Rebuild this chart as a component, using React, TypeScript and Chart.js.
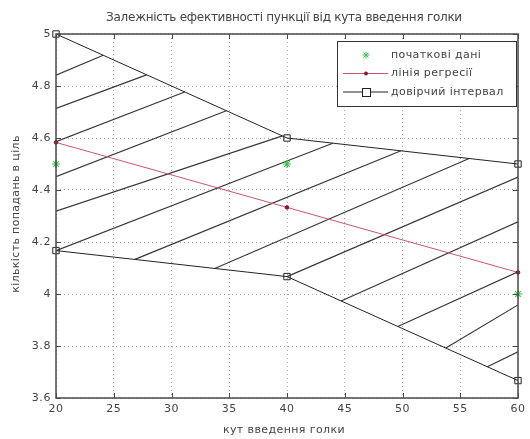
import React, { useEffect, useRef } from "react";
import { Chart, registerables } from "chart.js";
Chart.register(...registerables);

// ---- data ----
const angles = [20, 40, 60];
const initialData = [4.5, 4.5, 4.0];
const regression = [4.583, 4.333, 4.083];
const upperBound = [5.0, 4.6, 4.5];
const lowerBound = [4.167, 4.067, 3.667];

// hatch lines of the confidence band (start / end points in data units)
const hatchStartX = [20, 20, 20, 20, 20, 20, 26.83, 33.74, 40, 44.68, 49.6, 53.75, 57.35];
const hatchStartY = [4.842, 4.714, 4.586, 4.451, 4.319, 4.167, 4.133, 4.098, 4.067, 3.973, 3.875, 3.792, 3.72];
const hatchEndX = [24.09, 27.84, 31.14, 34.75, 39.6, 43.96, 49.87, 55.77, 60, 60, 60, 60, 60];
const hatchEndY = [4.918, 4.843, 4.777, 4.705, 4.608, 4.58, 4.551, 4.521, 4.45, 4.278, 4.085, 3.958, 3.778];

const xTicks = [20, 25, 30, 35, 40, 45, 50, 55, 60];
const yTicks = [3.6, 3.8, 4.0, 4.2, 4.4, 4.6, 4.8, 5.0];

const chartTitle = "Залежність ефективності пункції від кута введення голки";
const xTitle = "кут введення голки";
const yTitle = "кількість попадань в ціль";
const legendLabels = ["початкові дані", "лінія регресії", "довірчий інтервал"];

const FONT = "'DejaVu Sans', 'Liberation Sans', sans-serif";
const TEXT = "#444";
const GREEN = "#3fc44f";
const RED = "#c8566a";
const BLACK = "#222";
const HATCH = "#383838";

function drawStar(ctx: CanvasRenderingContext2D, x: number, y: number, r: number) {
  ctx.beginPath();
  ctx.moveTo(x - r, y); ctx.lineTo(x + r, y);
  ctx.moveTo(x, y - r); ctx.lineTo(x, y + r);
  const d = r * 0.7;
  ctx.moveTo(x - d, y - d); ctx.lineTo(x + d, y + d);
  ctx.moveTo(x - d, y + d); ctx.lineTo(x + d, y - d);
  ctx.stroke();
}

const spacingPlugin = {
  id: "spacing",
  beforeDraw(chart: any) {
    (chart.ctx as any).letterSpacing = "0.6px";
  },
};

const decorPlugin = {
  id: "decor",
  afterDraw(chart: any) {
    const { ctx, chartArea: a, scales } = chart;
    const xs = scales.x, ys = scales.y;
    ctx.save();
    // box
    ctx.strokeStyle = "#4a4a4a";
    ctx.lineWidth = 1.5;
    ctx.strokeRect(a.left, a.top, a.right - a.left, a.bottom - a.top);
    // inward ticks
    ctx.lineWidth = 1;
    ctx.beginPath();
    xTicks.forEach((v) => {
      const px = Math.round(xs.getPixelForValue(v)) + 0.5;
      ctx.moveTo(px, a.bottom); ctx.lineTo(px, a.bottom - 5);
      ctx.moveTo(px, a.top); ctx.lineTo(px, a.top + 5);
    });
    yTicks.forEach((v) => {
      const py = Math.round(ys.getPixelForValue(v)) + 0.5;
      ctx.moveTo(a.left, py); ctx.lineTo(a.left + 5, py);
      ctx.moveTo(a.right, py); ctx.lineTo(a.right - 5, py);
    });
    ctx.stroke();

    // titles
    ctx.fillStyle = TEXT;
    ctx.textAlign = "center";
    ctx.textBaseline = "middle";
    (ctx as any).letterSpacing = "-0.27px";
    ctx.font = `12px ${FONT}`;
    ctx.fillText(chartTitle, 284, 18);
    (ctx as any).letterSpacing = "0.4px";
    ctx.font = `11px ${FONT}`;
    ctx.fillText(xTitle, 284, 430);
    ctx.save();
    (ctx as any).letterSpacing = "0.35px";
    ctx.translate(16, 214);
    ctx.rotate(-Math.PI / 2);
    ctx.fillText(yTitle, 0, 0);
    ctx.restore();

    // legend
    const lx = 337, ly = 41, lw = 179, lh = 65;
    ctx.fillStyle = "#fff";
    ctx.fillRect(lx, ly, lw, lh);
    ctx.strokeStyle = "#333";
    ctx.lineWidth = 1;
    ctx.strokeRect(lx + 0.5, ly + 0.5, lw, lh);
    const rows = [55, 73.5, 92];
    const sx0 = 343, sx1 = 388, mx = 366;
    ctx.strokeStyle = GREEN;
    ctx.lineWidth = 1;
    drawStar(ctx, mx, rows[0], 3.5);
    ctx.strokeStyle = RED;
    ctx.beginPath(); ctx.moveTo(sx0, rows[1]); ctx.lineTo(sx1, rows[1]); ctx.stroke();
    ctx.fillStyle = "#8a1a2a";
    ctx.beginPath(); ctx.arc(mx, rows[1], 2, 0, Math.PI * 2); ctx.fill();
    ctx.strokeStyle = BLACK;
    ctx.beginPath(); ctx.moveTo(sx0, rows[2]); ctx.lineTo(sx1, rows[2]); ctx.stroke();
    ctx.fillStyle = "#fff";
    ctx.fillRect(mx - 4, rows[2] - 4, 8, 8);
    ctx.strokeRect(mx - 4 + 0.5, rows[2] - 4 + 0.5, 8, 8);
    ctx.fillStyle = TEXT;
    ctx.textAlign = "left";
    (ctx as any).letterSpacing = "0.4px";
    ctx.font = `11px ${FONT}`;
    legendLabels.forEach((t, i) => ctx.fillText(t, 391, rows[i]));
    ctx.restore();
  },
};

export default function App() {
  const ref = useRef<HTMLCanvasElement>(null);
  useEffect(() => {
    if (!ref.current) return;
    const hatchData: any[] = [];
    hatchStartX.forEach((x0, i) => {
      hatchData.push({ x: x0, y: hatchStartY[i] });
      hatchData.push({ x: hatchEndX[i], y: hatchEndY[i] });
      hatchData.push({ x: hatchEndX[i], y: null });
    });
    const pts = (ys: number[]) => angles.map((x, i) => ({ x, y: ys[i] }));
    const chart = new Chart(ref.current, {
      type: "line",
      data: {
        datasets: [
          {
            label: legendLabels[0],
            data: pts(initialData),
            showLine: false,
            pointStyle: "star",
            pointRadius: 4,
            pointBorderColor: GREEN,
            pointBorderWidth: 1.2,
            clip: false,
            order: 0,
          },
          {
            label: legendLabels[1],
            data: pts(regression),
            borderColor: RED,
            borderWidth: 1,
            pointStyle: "circle",
            pointRadius: 1.8,
            pointBackgroundColor: "#8a1a2a",
            pointBorderColor: "#8a1a2a",
            clip: false,
            order: 1,
          },
          {
            label: legendLabels[2],
            data: pts(upperBound),
            borderColor: BLACK,
            borderWidth: 1,
            pointStyle: "rect",
            pointRadius: 4.5,
            pointBackgroundColor: "rgba(255,255,255,0)",
            pointBorderColor: BLACK,
            pointBorderWidth: 1,
            clip: false,
            order: 2,
          },
          {
            label: legendLabels[2] + " (lower)",
            data: pts(lowerBound),
            borderColor: BLACK,
            borderWidth: 1,
            pointStyle: "rect",
            pointRadius: 4.5,
            pointBackgroundColor: "rgba(255,255,255,0)",
            pointBorderColor: BLACK,
            pointBorderWidth: 1,
            clip: false,
            order: 2,
          },
          {
            label: "hatch",
            data: hatchData,
            borderColor: HATCH,
            borderWidth: 1.2,
            pointRadius: 0,
            spanGaps: false,
            order: 3,
          },
        ],
      },
      options: {
        animation: false,
        responsive: false,
        devicePixelRatio: 1,
        layout: { padding: { top: 34, right: 11, left: 0, bottom: 0 } },
        plugins: {
          legend: { display: false },
          title: { display: false },
          tooltip: { enabled: false },
        },
        scales: {
          x: {
            type: "linear",
            min: 20,
            max: 60,
            afterBuildTicks: (s: any) => { s.ticks = xTicks.map((v) => ({ value: v })); },
            afterFit: (s: any) => { s.height = 41; },
            ticks: {
              color: TEXT,
              font: { family: FONT, size: 11 },
              padding: 5,
              maxRotation: 0,
              autoSkip: false,
              callback: (v: any) => String(v),
            },
            grid: { color: "#a8a8a8", lineWidth: 1, drawTicks: false },
            border: { display: false, dash: [1, 3] },
          },
          y: {
            type: "linear",
            min: 3.6,
            max: 5,
            afterBuildTicks: (s: any) => { s.ticks = yTicks.map((v) => ({ value: v })); },
            afterFit: (s: any) => { s.width = 56; },
            ticks: {
              color: TEXT,
              font: { family: FONT, size: 11 },
              padding: 5,
              autoSkip: false,
              callback: (v: any) => String(Number(Number(v).toFixed(1))),
            },
            grid: { color: "#a8a8a8", lineWidth: 1, drawTicks: false },
            border: { display: false, dash: [1, 3] },
          },
        },
      },
      plugins: [spacingPlugin, decorPlugin],
    });
    return () => chart.destroy();
  }, []);
  return (
    <div style={{ position: "fixed", left: 0, top: 0, width: 530, height: 439, background: "#fff" }}>
      <canvas ref={ref} width={530} height={439} />
    </div>
  );
}
